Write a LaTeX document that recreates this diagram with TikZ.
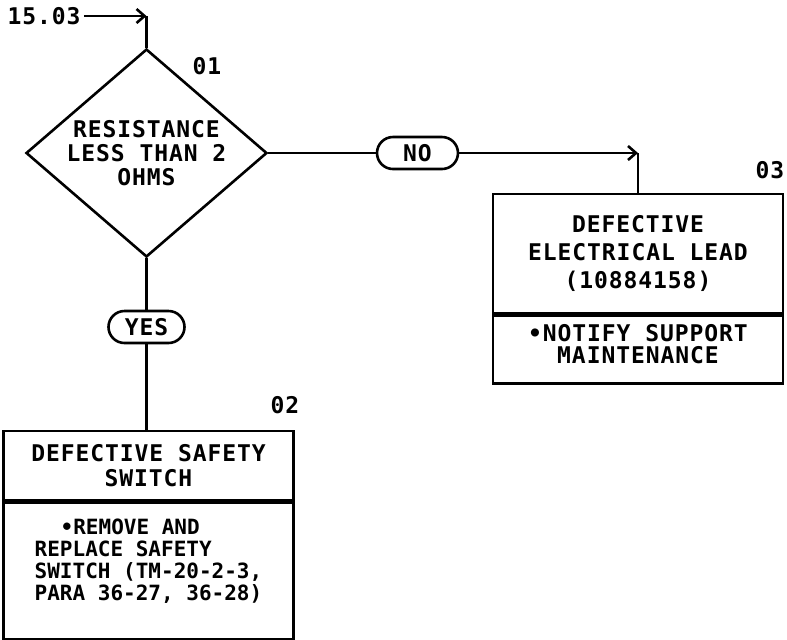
\documentclass[tikz,border=0pt]{standalone}
\usepackage{tikz}
\usepackage{fontspec}
\usetikzlibrary{shapes.geometric,positioning,arrows.meta}
\newfontfamily\lettering[LetterSpace=4]{DejaVu Sans Mono}
\newfontfamily\letteringtight{DejaVu Sans Mono}

\begin{document}
\begin{tikzpicture}[x=0.5pt,y=-0.5pt, line width=1.3pt, >={Straight Barb[length=4pt,width=7pt]},
  letters/.style={font=\lettering\bfseries\fontsize{11.5pt}{12pt}\selectfont},
  decision/.style={draw, shape=diamond, aspect=1.16, inner sep=0pt, minimum width=120.5pt, minimum height=104pt, align=center, letters},
  answer/.style={draw, rounded corners=8pt, minimum height=16pt, inner xsep=6pt, letters},
  headbox/.style={draw, minimum width=145pt, align=center, letters},
  actbox/.style={draw, minimum width=145pt, letters}]
  \useasboundingbox (0,0) rectangle (787,639);
  \node[letters, inner xsep=1pt] (start) at (44,16) {15.03};
  \node[decision] (dec) at (146.5,153) {RESISTANCE\\LESS THAN 2\\OHMS};
  \node[letters] (lbla) at (207,66) {01};
  \coordinate (inbend) at (dec.north |- start);
  \node[answer, minimum width=40.5pt] (no) at (417.5,153) {NO};
  \node[headbox, minimum height=59.5pt] (lead) at (638,253.5) {DEFECTIVE\\[2pt]ELECTRICAL LEAD\\[2pt](10884158)};
  \node[actbox, align=center, minimum height=34pt, below=0pt of lead] (leadact) {•NOTIFY SUPPORT\\[-1pt]MAINTENANCE\\[-6pt]\mbox{}};
  \node[letters] (lblc) at (770,170) {03};
  \coordinate (nobend) at (lead.north |- no);
  \node[answer, minimum width=38pt] (yes) at (146.5,327) {YES};
  \node[headbox, minimum height=34.5pt] (sw) at (148.5,465.5) {DEFECTIVE SAFETY\\[0.5pt]SWITCH};
  \node[actbox, align=left, minimum height=68.5pt, below=0pt of sw, font=\letteringtight\bfseries\fontsize{10.5pt}{12pt}\selectfont] (swact)
    {\hspace{13pt}•REMOVE AND\\[-1pt]REPLACE SAFETY\\[-1pt]SWITCH (TM-20-2-3,\\[-1pt]PARA 36-27, 36-28)\\[-1pt]\mbox{}};
  \node[letters] (lblb) at (285,405) {02};
  \draw[->] (start) -- (inbend);
  \draw (inbend) -- (dec);
  \draw (dec) -- (no);
  \draw[->] (no) -- (nobend);
  \draw (nobend) -- (lead);
  \draw (dec) -- (yes);
  \draw (yes) -- (yes |- sw.north);
\end{tikzpicture}
\end{document}
